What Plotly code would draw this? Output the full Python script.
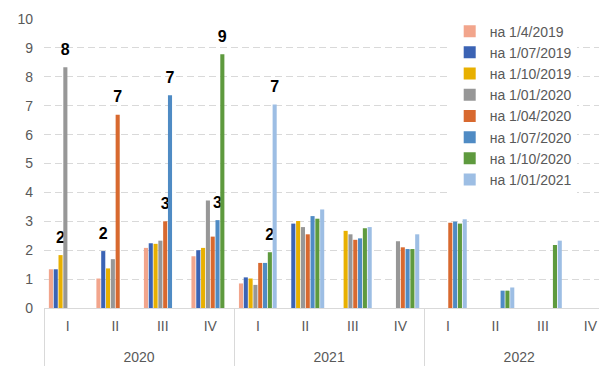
import plotly.graph_objects as go

years = ["<br>2020"] * 4 + ["<br>2021"] * 4 + ["<br>2022"] * 4
quarters = ["I", "II", "III", "IV"] * 3

series_names = [
    "на 1/4/2019", "на 1/07/2019", "на 1/10/2019", "на 1/01/2020",
    "на 1/04/2020", "на 1/07/2020", "на 1/10/2020", "на 1/01/2021",
]
colors = ["#F2A58C", "#3B63B4", "#E8B000", "#979797",
          "#D8692F", "#4F8BC4", "#5E9A3E", "#9DBEE4"]

s1 = [1.34, 1.02, 2.08, 1.79, 0.85, None, None, None, None, None, None, None]
s2 = [1.34, 1.97, 2.24, 2.00, 1.06, 2.92, None, None, None, None, None, None]
s3 = [1.83, 1.37, 2.22, 2.08, 1.02, 3.01, 2.67, None, None, None, None, None]
s4 = [8.33, 1.69, 2.33, 3.72, 0.80, 2.80, 2.55, 2.31, None, None, None, None]
s5 = [None, 6.69, 3.00, 2.47, 1.56, 2.55, 2.36, 2.10, 2.95, None, None, None]
s6 = [None, None, 7.36, 3.04, 1.56, 3.18, 2.41, 2.04, 2.99, 0.60, None, None]
s7 = [None, None, None, 8.78, 1.93, 3.09, 2.76, 2.04, 2.92, 0.60, 2.18, None]
s8 = [None, None, None, None, 7.04, 3.41, 2.80, 2.55, 3.07, 0.71, 2.33, None]
values = [s1, s2, s3, s4, s5, s6, s7, s8]

l1 = [""] * 12
l2 = ["", "2"] + [""] * 10
l3 = ["2"] + [""] * 11
l4 = ["8"] + [""] * 11
l5 = ["", "7", "3"] + [""] * 9
l6 = ["", "", "7", "3"] + [""] * 8
l7 = ["", "", "", "9", "2"] + [""] * 7
l8 = ["", "", "", "", "7"] + [""] * 7
labels = [l1, l2, l3, l4, l5, l6, l7, l8]


def fmt(t):
    # big bold number with a small blank line under it, to lift it off the bar
    return f"<span style='font-size:16px'><b>{t}</b></span><br> " if t else ""


fig = go.Figure()
for name, col, vals, lab in zip(series_names, colors, values, labels):
    fig.add_trace(go.Bar(
        x=[years, quarters], y=vals, name=name,
        marker=dict(color=col, line=dict(width=0)),
        text=[fmt(t) for t in lab], textposition="outside", constraintext="none",
        cliponaxis=False,
        textfont=dict(family="Liberation Sans, Arial", size=8, color="black"),
    ))

fig.update_layout(
    width=599, height=367,
    margin=dict(l=44, r=0, t=19, b=59),
    paper_bgcolor="white", plot_bgcolor="white",
    barmode="group", bargap=0.19, bargroupgap=0.15,
    font=dict(family="Liberation Sans, Arial", size=14, color="#595959"),
    showlegend=True,
    legend=dict(x=0.731, y=1.012, xanchor="left", yanchor="top",
                bgcolor="white", font=dict(size=14, color="#595959"),
                tracegroupgap=0, itemwidth=30),
    xaxis=dict(type="multicategory", range=[-0.5, 11.18],
               showline=True, linecolor="#D9D9D9", linewidth=1,
               showdividers=True, dividercolor="#D9D9D9", dividerwidth=1,
               tickfont=dict(size=14, color="#595959"), showgrid=False,
               ticklabelstandoff=5),
    yaxis=dict(range=[0, 10], dtick=1, showgrid=True, gridcolor="#D9D9D9",
               griddash="7px,4px", gridwidth=1, zeroline=False, showline=False,
               tickfont=dict(size=14, color="#595959"), ticks="", ticklabelstandoff=10),
)

fig.write_html("out.html")
